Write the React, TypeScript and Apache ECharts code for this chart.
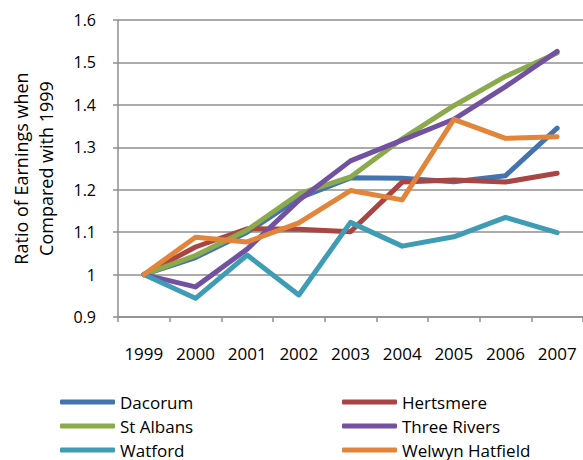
import React, { useEffect, useRef } from "react";
import * as echarts from "echarts";

const years = ["1999", "2000", "2001", "2002", "2003", "2004", "2005", "2006", "2007"];
const dacorum = [1.0, 1.04, 1.1, 1.18, 1.228, 1.227, 1.219, 1.233, 1.345];
const hertsmere = [1.0, 1.065, 1.108, 1.107, 1.101, 1.218, 1.223, 1.218, 1.239];
const stAlbans = [1.0, 1.045, 1.105, 1.19, 1.23, 1.32, 1.398, 1.467, 1.522];
const threeRivers = [1.0, 0.971, 1.06, 1.175, 1.268, 1.317, 1.366, 1.443, 1.526];
const watford = [1.0, 0.944, 1.046, 0.952, 1.123, 1.067, 1.089, 1.135, 1.099];
const welwynHatfield = [1.0, 1.088, 1.077, 1.122, 1.198, 1.176, 1.366, 1.321, 1.325];

const seriesNames = ["Dacorum", "Hertsmere", "St Albans", "Three Rivers", "Watford", "Welwyn Hatfield"];
const seriesData = [dacorum, hertsmere, stAlbans, threeRivers, watford, welwynHatfield];
const colors = ["#4474AE", "#A94542", "#8BAA4B", "#7252A0", "#3E9CB4", "#E2843A"];

const FONT = "'Open Sans', 'Liberation Sans', sans-serif";
const GRID_GRAY = "#8f8f8f";

export default function App() {
  const ref = useRef<HTMLDivElement>(null);
  useEffect(() => {
    if (!ref.current) return;
    const chart = echarts.init(ref.current, null, { renderer: "svg" });
    const legendCommon = {
      orient: "vertical" as const,
      top: 392,
      padding: 0,
      height: 90,
      itemWidth: 55,
      itemHeight: 5,
      itemGap: 4,
      icon: "roundRect",
      textStyle: { fontFamily: FONT, fontSize: 17, color: "#000", lineHeight: 20 },
    };
    chart.setOption({
      animation: false,
      color: colors,
      grid: { left: 117, top: 20, width: 474, height: 297 },
      legend: [
        { ...legendCommon, left: 60, data: ["Dacorum", "St Albans", "Watford"] },
        { ...legendCommon, left: 342, data: ["Hertsmere", "Three Rivers", "Welwyn Hatfield"] },
      ],
      xAxis: {
        type: "category",
        data: years,
        boundaryGap: true,
        axisLine: { lineStyle: { color: GRID_GRAY, width: 1.5 } },
        axisTick: { show: true, length: 5, lineStyle: { color: GRID_GRAY, width: 1.5 } },
        axisLabel: { fontFamily: FONT, fontSize: 17, color: "#000", margin: 28, interval: 0 },
      },
      yAxis: {
        type: "value",
        min: 0.9,
        max: 1.6,
        interval: 0.1,
        name: "Ratio of Earnings when\nCompared with 1999",
        nameLocation: "middle",
        nameGap: 60,
        nameTextStyle: { fontFamily: FONT, fontSize: 18, color: "#000", lineHeight: 25 },
        axisLine: { show: true, lineStyle: { color: GRID_GRAY, width: 1.5 } },
        axisTick: { show: true, length: 5, lineStyle: { color: GRID_GRAY, width: 1.5 } },
        splitLine: { show: true, lineStyle: { color: GRID_GRAY, width: 1.5 } },
        axisLabel: {
          fontFamily: FONT,
          fontSize: 16,
          color: "#000",
          margin: 22,
          formatter: (v: number) => String(Number(v.toFixed(1))),
        },
      },
      series: seriesNames.map((name, i) => ({
        name,
        type: "line",
        data: seriesData[i],
        symbol: "none",
        lineStyle: { width: 5, color: colors[i], cap: "round", join: "round" },
        itemStyle: { color: colors[i] },
      })),
    });
    return () => chart.dispose();
  }, []);
  return (
    <div
      ref={ref}
      style={{ position: "absolute", left: 0, top: 0, width: 583, height: 460 }}
    />
  );
}
